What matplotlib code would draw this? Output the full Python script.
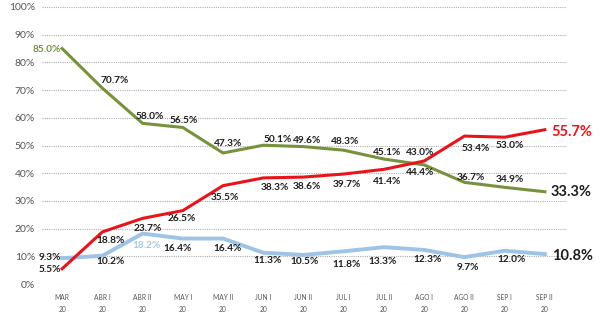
import matplotlib.pyplot as plt

periods = ["MAR\n20", "ABR I\n20", "ABR II\n20", "MAY I\n20", "MAY II\n20", "JUN I\n20",
           "JUN II\n20", "JUL I\n20", "JUL II\n20", "AGO I\n20", "AGO II\n20", "SEP I\n20",
           "SEP II\n20"]
green_vals = [85.0, 70.7, 58.0, 56.5, 47.3, 50.1, 49.6, 48.3, 45.1, 43.0, 36.7, 34.9, 33.3]
red_vals = [5.5, 18.8, 23.7, 26.5, 35.5, 38.3, 38.6, 39.7, 41.4, 44.4, 53.4, 53.0, 55.7]
blue_vals = [9.3, 10.2, 18.2, 16.4, 16.4, 11.3, 10.5, 11.8, 13.3, 12.3, 9.7, 12.0, 10.8]

GREEN = "#76923c"
RED = "#e8141b"
BLUE = "#9dc3e6"
DARK = "#1e1e1e"

# label offsets in pixels (dx, dy down)
green_off = [(-1, 1), (12, -8), (7, -7), (1, -7), (5, -9), (14, -6), (4, -6), (1, -9),
             (3, -7), (-4, -12), (6, -5), (5, -8), (6, 0)]
red_off = [(-1, 1), (8, 9), (5, 10), (-1, 8), (2, 12), (12, 10), (3, 9), (3, 10),
           (3, 12), (-4, 11), (11, 12), (5, 8), (6, 2)]
blue_off = [(-1, -1), (8, 6), (4, 12), (-5, 10), (4, 10), (4, 8), (1, 7), (3, 13),
            (-1, 14), (3, 10), (3, 10), (7, 9), (7, 2)]

FONT = ["Lato", "DejaVu Sans"]

fig = plt.figure(figsize=(6.01, 3.22), dpi=100)
ax = fig.add_axes([42 / 601, 38 / 322, (567 - 42) / 601, (284 - 7) / 322])

x = list(range(len(periods)))
ax.plot(x, blue_vals, color=BLUE, lw=2.8, zorder=2)
ax.plot(x, green_vals, color=GREEN, lw=2.2, zorder=3)
ax.plot(x, red_vals, color=RED, lw=2.2, zorder=4)


def put_labels(vals, offs, first_color, last_color):
    n = len(vals)
    for i, (v, (dx, dy)) in enumerate(zip(vals, offs)):
        color = DARK
        size = 7.3
        ha = "center"
        if i == 0:
            ha = "right"
            color = first_color
        if i == n - 1:
            ha = "left"
            size = 10.5
            color = last_color
        ax.annotate(f"{v:.1f}%", (i, v), xytext=(dx, -dy), textcoords="offset pixels",
                    ha=ha, va="center", fontsize=size, fontweight="bold",
                    color=color, family=FONT, zorder=6, annotation_clip=False)


put_labels(green_vals, green_off, GREEN, DARK)
put_labels(red_vals, red_off, DARK, RED)
put_labels(blue_vals, blue_off, DARK, DARK)
# ABR II blue label is drawn in light blue
for t in ax.texts:
    if t.get_text() == "18.2%":
        t.set_color("#a9c8e3")

ax.set_xlim(-0.5, 12.55)
ax.set_ylim(0, 100)
ax.set_yticks(range(0, 101, 10))
ax.set_yticklabels([f"{v}%" for v in range(0, 101, 10)], family=FONT, fontsize=7.5,
                   color="#555555")
ax.set_xticks(x)
ax.set_xticklabels(periods, family=FONT, fontsize=4.8, color="#555555", linespacing=1.9)
ax.tick_params(length=0, pad=5)
ax.tick_params(axis="x", pad=7)
ax.grid(axis="y", color="#b0b0b0", ls=(0, (1, 1)), lw=0.8)
ax.set_axisbelow(True)
for s in ax.spines.values():
    s.set_visible(False)

fig.savefig("out.png", dpi=100)
